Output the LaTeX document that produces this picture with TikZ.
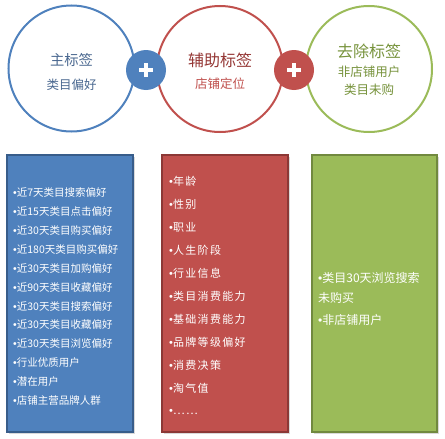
\documentclass[tikz,border=0pt]{standalone}
\usepackage{fontspec}
\setmainfont{Noto Sans CJK SC}
\newfontfamily\cjk{Noto Sans CJK SC}
\newfontfamily\cjkspaced[LetterSpace=12]{Noto Sans CJK SC}
\newfontfamily\bulfont{Liberation Sans}
\newcommand{\bt}{{\bulfont •}}
\definecolor{bluef}{HTML}{4F81BD}
\definecolor{blued}{HTML}{385D8A}
\definecolor{redf}{HTML}{C0504D}
\definecolor{redd}{HTML}{8C3836}
\definecolor{greenf}{HTML}{9BBB59}
\definecolor{greend}{HTML}{71893F}
\definecolor{bluetxt}{HTML}{4A6890}
\definecolor{redtxt}{HTML}{953735}
\definecolor{greentxt}{HTML}{77933C}
\begin{document}
\begin{tikzpicture}[x=1pt,y=-1pt,
  ring/.style={circle,draw,line width=2pt,fill=white,minimum size=126pt,inner sep=0pt},
  plusbtn/.style={circle,fill=#1,minimum size=40pt,inner sep=0pt},
  col/.style={draw=#1,line width=2pt},
  item/.style={anchor=west,inner sep=0pt,text=white},
  ttl/.style={inner sep=0pt}]
\useasboundingbox (0,0) rectangle (445,439);
% circles
\node[ring,draw=bluef] (c1) at (71.5,68.5) {};
\node[ring,draw=redf] (c2) at (220,69) {};
\node[ring,draw=greenf] (c3) at (369,69) {};
\node[plusbtn=bluef] (p1) at (146,70) {};
\node[plusbtn=redf] (p2) at (294,70) {};
\foreach \p in {p1,p2}{
  \draw[white,line width=4pt] ([xshift=-7pt]\p.center) -- ([xshift=7pt]\p.center);
  \draw[white,line width=4pt] ([yshift=-7pt]\p.center) -- ([yshift=7pt]\p.center);
}
% circle texts
\node[ttl,text=bluetxt,font=\cjk\fontsize{14.3}{16}\selectfont] (t1) at (71.5,60) {主标签};
\node[ttl,text=bluetxt,font=\cjk\fontsize{12.5}{14}\selectfont] (s1) at (71.5,85) {类目偏好};
\node[ttl,text=redtxt,font=\cjk\fontsize{16}{18}\selectfont] (t2) at (220,60) {辅助标签};
\node[ttl,text=redf,font=\cjk\fontsize{12.5}{14}\selectfont] (s2) at (220,83.5) {店铺定位};
\node[ttl,text=greentxt,font=\cjk\fontsize{16}{18}\selectfont] (t3) at (369,51) {去除标签};
\node[ttl,text=greentxt,font=\cjk\fontsize{12.5}{14}\selectfont] (s3a) at (369,72) {非店铺用户};
\node[ttl,text=greentxt,font=\cjk\fontsize{12.5}{14}\selectfont] (s3b) at (369,90) {类目未购};
% boxes
\fill[black!15] (9,157) rectangle (135,434);
\fill[black!15] (164,157) rectangle (290,434);
\fill[black!15] (314,157) rectangle (439,434);
\filldraw[col=blued,fill=bluef] (7,155) rectangle (133,432);
\filldraw[col=redd,fill=redf] (162,155) rectangle (288,432);
\filldraw[col=greend,fill=greenf] (312,155) rectangle (437,432);
% blue items
\foreach \t [count=\i from 0] in {近7天类目搜索偏好,近15天类目点击偏好,近30天类目购买偏好,近180天类目购买偏好,近30天类目加购偏好,近90天类目收藏偏好,近30天类目搜索偏好,近30天类目收藏偏好,近30天类目浏览偏好,行业优质用户,潜在用户,店铺主营品牌人群}{
  \node[item,font=\cjk\fontsize{10.5}{12}\selectfont] (b\i) at (13,192.7+18.9*\i) {\bt\t};
}
% red items
\foreach \t [count=\i from 0] in {年龄,性别,职业,人生阶段,行业信息,类目消费能力,基础消费能力,品牌等级偏好,消费决策,淘气值,……}{
  \node[item,font=\cjkspaced\fontsize{11}{13}\selectfont] (r\i) at (169,181.7+23*\i) {\bt\t};
}
% green items
\node[item,font=\cjk\fontsize{12}{13}\selectfont] (g0) at (318,278.3) {\bt 类目30天浏览搜索};
\node[item,font=\cjk\fontsize{12}{13}\selectfont] (g1) at (318,298.3) {未购买};
\node[item,font=\cjk\fontsize{12}{13}\selectfont] (g2) at (318,320) {\bt 非店铺用户};
\end{tikzpicture}
\end{document}
